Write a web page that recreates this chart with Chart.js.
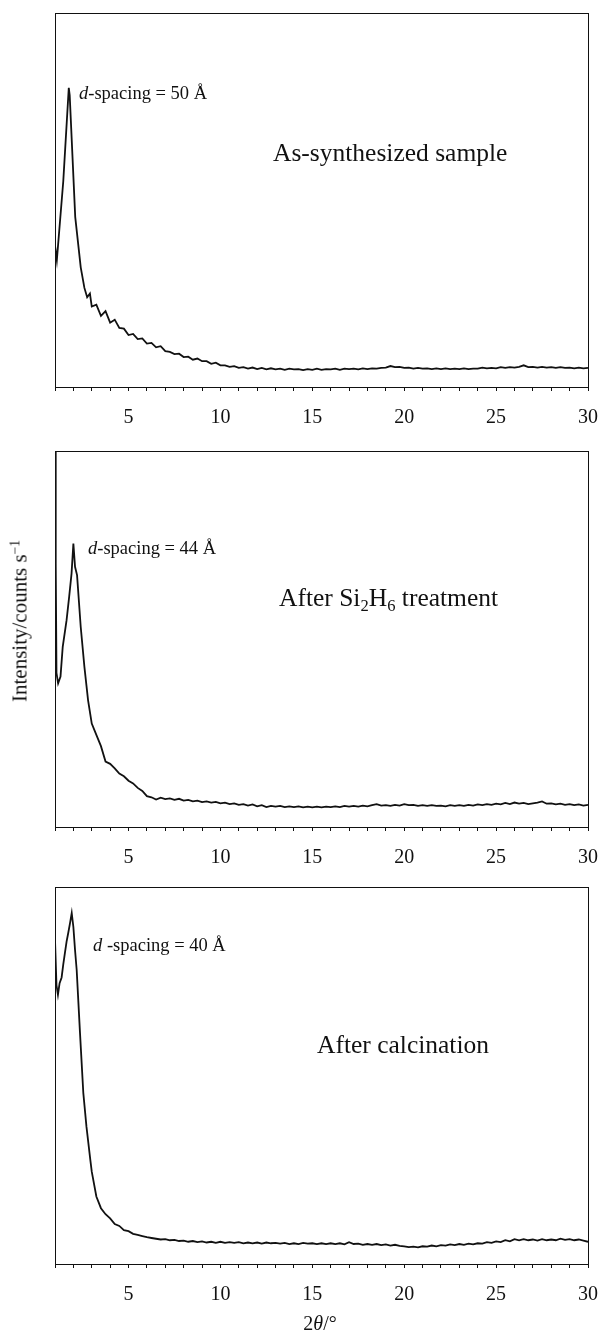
<!DOCTYPE html>
<html>
<head>
<meta charset="utf-8">
<script src="https://cdn.jsdelivr.net/npm/chart.js@4.4.0/dist/chart.umd.min.js"></script>
<style>
  body { margin: 0; background: #fff; }
  #pagina { position: relative; width: 602px; height: 1332px; font-family: "Liberation Serif", "Times New Roman", serif; color: #111; }
  .panel { position: absolute; left: 0; width: 602px; height: 440px; }
  .nota { position: absolute; white-space: nowrap; line-height: 1; transform: translateY(-50%); }
  .d { font-size: 18.5px; }
  .muestra { font-size: 25.5px; }
  sub { font-size: 0.65em; vertical-align: -0.3em; line-height: 0; }
  sup { font-size: 0.65em; vertical-align: 0.5em; line-height: 0; }
</style>
</head>
<body>
<div id="pagina">
  <canvas id="grafica_sintesis" class="panel" width="602" height="440" style="top:0px"></canvas>
  <canvas id="grafica_si2h6" class="panel" width="602" height="440" style="top:440px"></canvas>
  <canvas id="grafica_calcinacion" class="panel" width="602" height="440" style="top:880px"></canvas>

  <div class="nota d" style="left:79px; top:93px"><i>d</i>-spacing = 50 Å</div>
  <div class="nota muestra" style="left:273px; top:153px">As-synthesized sample</div>

  <div class="nota d" style="left:88px; top:548px"><i>d</i>-spacing = 44 Å</div>
  <div class="nota muestra" style="left:279px; top:598px">After Si<sub>2</sub>H<sub>6</sub> treatment</div>

  <div class="nota d" style="left:93px; top:945px"><i>d</i> -spacing = 40 Å</div>
  <div class="nota muestra" style="left:317px; top:1045px">After calcination</div>

  <div class="nota" style="left:20px; top:621px; font-size:21px; transform: translate(-50%,-50%) rotate(-90deg);">Intensity/counts s<sup>−1</sup></div>
  <div class="nota" style="left:320px; top:1323px; font-size:20px; transform: translate(-50%,-50%);">2<i>θ</i>/°</div>
</div>

<script>
/*-----Datos: 2θ (grados) e intensidad relativa (0 = eje, 100 = borde superior)-----*/

const colaX = [3.25,3.5,3.75,4, 4.25,4.5,4.75,5, 5.25,5.5,5.75,6, 6.25,6.5,6.75,7,
  7.25,7.5,7.75,8, 8.25,8.5,8.75,9, 9.25,9.5,9.75,10, 10.25,10.5,10.75,11,
  11.25,11.5,11.75,12, 12.25,12.5,12.75,13, 13.25,13.5,13.75,14, 14.25,14.5,14.75,15,
  15.25,15.5,15.75,16, 16.25,16.5,16.75,17, 17.25,17.5,17.75,18, 18.25,18.5,18.75,19,
  19.25,19.5,19.75,20, 20.25,20.5,20.75,21, 21.25,21.5,21.75,22, 22.25,22.5,22.75,23,
  23.25,23.5,23.75,24, 24.25,24.5,24.75,25, 25.25,25.5,25.75,26, 26.25,26.5,26.75,27,
  27.25,27.5,27.75,28, 28.25,28.5,28.75,29, 29.25,29.5,29.75,30];

// Muestra sintetizada
const picoX_1 = [1.0, 1.1, 1.45, 1.75, 1.8, 2.1, 2.4, 2.6, 2.75, 2.9, 3.0];
const picoI_1 = [37.9, 33.9, 55, 80, 78, 45.5, 32, 26.5, 24, 25, 21.5];
const colaI_1 = [22.0,19.0,20.3,17.2, 18.0,15.8,15.6,13.9, 14.2,12.8,13.0,11.6, 11.8,10.6,10.9,9.6,
  9.4,8.8,8.9,8.0, 8.1,7.3,7.6,6.9, 6.9,6.2,6.5,5.8, 5.8,5.4,5.6,5.1,
  5.3,4.9,5.2,4.8, 5.1,4.7,5.0,4.7, 4.9,4.6,4.9,4.7, 4.8,4.5,4.8,4.6,
  4.9,4.6,4.8,4.7, 4.9,4.6,4.9,4.8, 4.9,4.7,5.0,4.8, 5.0,4.9,5.1,5.2,
  5.6,5.3,5.4,5.1, 5.2,4.9,5.1,4.9, 5.0,4.8,5.0,4.8, 5.0,4.8,4.9,4.8,
  5.0,4.8,4.9,4.9, 5.2,5.0,5.1,5.0, 5.3,5.1,5.3,5.2, 5.4,5.8,5.3,5.4,
  5.2,5.4,5.2,5.3, 5.1,5.3,5.1,5.2, 5.0,5.2,5.0,5.1];

// Tras tratamiento con Si2H6
const picoX_2 = [1.0, 1.04, 1.08, 1.17, 1.3, 1.42, 1.63, 1.77, 1.9, 2.0, 2.09, 2.2, 2.4, 2.6, 2.8, 3.0];
const picoI_2 = [100, 70, 41, 38.2, 40, 47.9, 55, 61.2, 67.4, 75.4, 69.2, 67, 53.2, 42.6, 33.7, 27.5];
const colaI_2 = [24.5,21.5,17.4,16.8, 15.6,14.2,13.5,12.3, 11.6,10.4,9.6,8.2, 7.9,7.3,7.8,7.4,
  7.6,7.2,7.5,7.0, 7.2,6.8,7.0,6.6, 6.8,6.5,6.7,6.3, 6.5,6.1,6.3,5.9,
  6.1,5.7,6.0,5.5, 5.8,5.3,5.6,5.4, 5.6,5.3,5.5,5.3, 5.5,5.2,5.4,5.2,
  5.4,5.2,5.4,5.3, 5.5,5.3,5.6,5.4, 5.6,5.4,5.7,5.5, 5.8,6.1,5.7,5.8,
  5.6,5.9,5.7,6.1, 5.8,5.9,5.6,5.8, 5.6,5.8,5.6,5.7, 5.5,5.8,5.6,5.8,
  5.6,5.9,5.7,6.0, 5.8,6.1,5.9,6.2, 6.0,6.4,6.1,6.5, 6.2,6.4,6.1,6.3,
  6.5,6.8,6.2,6.3, 6.0,6.2,5.9,6.1, 5.8,6.0,5.7,5.9];

// Tras calcinación
const picoX_3 = [1.0, 1.08, 1.16, 1.25, 1.36, 1.45, 1.54, 1.63, 1.72, 1.82, 1.91, 2.0, 2.09, 2.18, 2.36, 2.54, 2.71, 2.92, 3.0];
const picoI_3 = [86, 74, 71.4, 74.5, 76, 79.5, 82.5, 85.5, 87.8, 90.5, 93.1, 89.4, 83.3, 78, 61.3, 45.4, 36.5, 27.7, 24.5];
const colaI_3 = [17.9,14.8,13.2,12.1, 10.6,10.1,9.0,8.7, 8.0,7.7,7.4,7.1, 6.9,6.7,6.5,6.6,
  6.3,6.4,6.1,6.2, 5.9,6.1,5.8,6.0, 5.7,5.9,5.6,5.9, 5.6,5.8,5.6,5.8,
  5.5,5.7,5.5,5.7, 5.4,5.7,5.5,5.6, 5.4,5.6,5.3,5.5, 5.3,5.6,5.4,5.5,
  5.3,5.5,5.3,5.5, 5.3,5.5,5.2,5.8, 5.3,5.4,5.1,5.3, 5.1,5.3,5.0,5.2,
  4.9,5.1,4.8,4.7, 4.5,4.6,4.4,4.7, 4.6,4.9,4.7,5.0, 4.9,5.2,5.0,5.3,
  5.1,5.4,5.2,5.5, 5.4,5.8,5.6,6.0, 5.8,6.3,6.0,6.6, 6.3,6.6,6.3,6.5,
  6.2,6.6,6.3,6.5, 6.3,6.7,6.4,6.6, 6.3,6.5,6.2,5.9];

/*-----Marco de cada gráfica-----*/

const marco = {
  id: 'marco',
  afterDraw(chart) {
    const a = chart.chartArea;
    const ctx = chart.ctx;
    ctx.save();
    ctx.strokeStyle = '#111';
    ctx.lineWidth = 1;
    ctx.strokeRect(Math.round(a.left) + 0.5, Math.round(a.top) + 0.5,
                   Math.round(a.right - a.left), Math.round(a.bottom - a.top));
    ctx.restore();
  }
};

function puntos(xs, ys) {
  return xs.map((x, i) => ({ x: x, y: ys[i] }));
}

function grafica(id, datos, padTop, padBottom) {
  return new Chart(document.getElementById(id), {
    type: 'line',
    data: {
      datasets: [{
        data: datos,
        borderColor: '#111',
        borderWidth: 1.8,
        pointRadius: 0,
        tension: 0
      }]
    },
    options: {
      animation: false,
      responsive: false,
      layout: { padding: { left: 55, right: 14, top: padTop, bottom: padBottom } },
      plugins: { legend: { display: false }, tooltip: { enabled: false } },
      scales: {
        x: {
          type: 'linear',
          min: 1,
          max: 30,
          afterFit: function (s) {
            s.height = 50;
            s.paddingLeft = 0;
            s.paddingRight = 0;
          },
          border: { color: '#111', width: 1 },
          grid: { drawOnChartArea: false, tickLength: 4, color: '#111' },
          ticks: {
            stepSize: 1,
            autoSkip: false,
            maxRotation: 0,
            padding: 15,
            color: '#111',
            font: { family: 'Liberation Serif', size: 20 },
            callback: v => (v % 5 === 0 ? v : '')
          }
        },
        y: { display: false, min: 0, max: 100 }
      }
    },
    plugins: [marco]
  });
}

grafica('grafica_sintesis', puntos(picoX_1.concat(colaX), picoI_1.concat(colaI_1)), 13, 3);
grafica('grafica_si2h6', puntos(picoX_2.concat(colaX), picoI_2.concat(colaI_2)), 11, 3);
grafica('grafica_calcinacion', puntos(picoX_3.concat(colaX), picoI_3.concat(colaI_3)), 7, 6);
</script>
</body>
</html>
